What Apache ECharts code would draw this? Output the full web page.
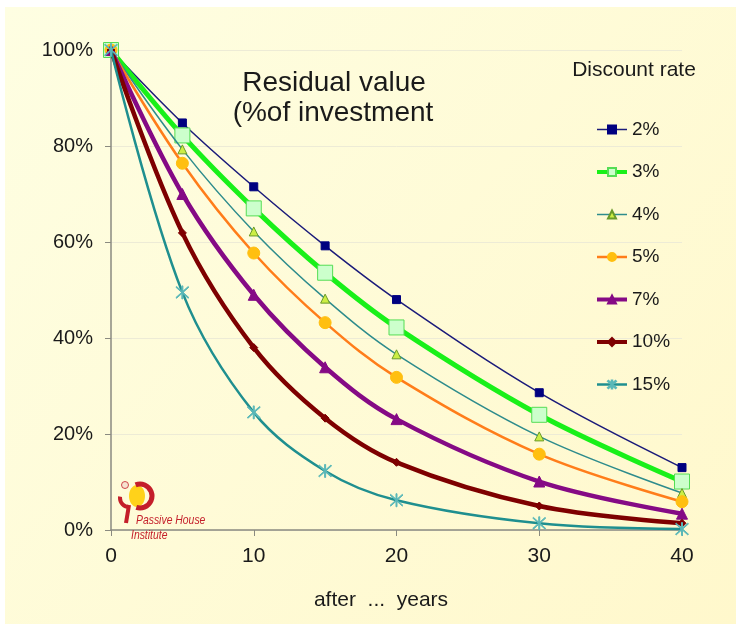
<!DOCTYPE html>
<html><head><meta charset="utf-8">
<script src="https://cdn.jsdelivr.net/npm/echarts@6/dist/echarts.min.js"></script>
<style>html,body{margin:0;padding:0;background:#fff}#c{width:742px;height:630px}</style>
</head><body><div id="c"></div>
<script>
const years = [0, 5, 10, 15, 20, 30, 40];
const rateNames = ['2%', '3%', '4%', '5%', '7%', '10%', '15%'];
const r2  = [100, 84.8, 71.5, 59.2, 48.0, 28.6, 13.0];
const r3  = [100, 82.2, 67.0, 53.6, 42.2, 24.0, 10.1];
const r4  = [100, 79.3, 62.2, 48.2, 36.6, 19.5, 7.7];
const r5  = [100, 76.4, 57.7, 43.2, 31.8, 15.8, 5.9];
const r7  = [100, 70.0, 49.0, 33.9, 23.1, 10.1, 3.4];
const r10 = [100, 61.9, 38.0, 23.3, 14.1, 5.0, 1.4];
const r15 = [100, 49.5, 24.5, 12.3, 6.2, 1.4, 0.2];
const xTicks = [0, 10, 20, 30, 40];
const yTicks = [0, 20, 40, 60, 80, 100];

const FONT = '"Liberation Sans", Arial, sans-serif';
const star = 'path://M9.3,0 L10.7,0 L10.7,20 L9.3,20 Z M1,2 L2,1 L19,18 L18,19 Z M18,1 L19,2 L2,19 L1,18 Z';

const styles = [
  {data: r2,  line: '#1b1b7a', w: 1.5, sym: 'rect', size: 8, fill: '#000080', border: '#000080'},
  {data: r3,  line: '#19f019', w: 5,   sym: 'rect', size: 15, fill: '#ccffcc', border: '#55dd55'},
  {data: r4,  line: '#2e8c8c', w: 1.5, sym: 'triangle', size: 9, fill: '#ccee44', border: '#6a9a2a'},
  {data: r5,  line: '#ff7d1a', w: 2.5, sym: 'circle', size: 12, fill: '#ffbf10', border: '#ffbf10'},
  {data: r7,  line: '#850a85', w: 4.5, sym: 'triangle', size: 11, fill: '#850a85', border: '#850a85'},
  {data: r10, line: '#7e0000', w: 4.5, sym: 'diamond', size: 8, fill: '#7e0000', border: '#7e0000'},
  {data: r15, line: '#1f8f8f', w: 2.5, sym: star, size: 13, fill: '#5ab8b8', border: '#5ab8b8'}
];

const series = styles.map((s, i) => ({
  name: rateNames[i],
  type: 'line',
  smooth: 0.35,
  data: years.map((x, j) => [x, s.data[j]]),
  symbol: s.sym,
  symbolSize: s.size,
  showAllSymbol: true,
  lineStyle: {color: s.line, width: s.w},
  itemStyle: {color: s.fill, borderColor: s.border, borderWidth: 1},
  z: 2 + i
}));

const RED = '#c41e2a';
const chart = echarts.init(document.getElementById('c'), null, {renderer: 'canvas'});
chart.setOption({
  animation: false,
  backgroundColor: '#ffffff',
  textStyle: {fontFamily: FONT},
  grid: {left: 111, right: 60, top: 50, bottom: 100, containLabel: false},
  xAxis: {
    type: 'value', min: 0, max: 40, interval: 10,
    axisLine: {show: true, lineStyle: {color: '#8a8a80', width: 1.5}},
    axisTick: {show: true, length: 6, lineStyle: {color: '#8a8a80'}},
    axisLabel: {fontSize: 21, color: '#1a1a1a', margin: 16, fontFamily: FONT},
    splitLine: {show: false}
  },
  yAxis: {
    type: 'value', min: 0, max: 100, interval: 20,
    axisLine: {show: true, lineStyle: {color: '#8a8a80', width: 1.5}},
    axisTick: {show: true, length: 6, lineStyle: {color: '#8a8a80'}},
    axisLabel: {fontSize: 20, color: '#1a1a1a', margin: 18, formatter: '{value}%', fontFamily: FONT},
    splitLine: {show: true, lineStyle: {color: '#edebd6', width: 1}}
  },
  legend: {
    orient: 'vertical', left: 595, top: 120, padding: 0,
    itemWidth: 30, itemHeight: 10, itemGap: 23.5,
    textStyle: {fontSize: 19, color: '#1a1a1a', fontFamily: FONT},
    data: rateNames.map((n, i) => ({name: n, lineStyle: {width: Math.min(styles[i].w, 4)}}))
  },
  graphic: [
    {type: 'rect', z: -10, silent: true, shape: {x: 5, y: 7, width: 731, height: 617},
     style: {fill: new echarts.graphic.LinearGradient(0, 0, 1, 1, [
       {offset: 0, color: '#fefee2'}, {offset: 1, color: '#fff8cc'}])}},
    {type: 'text', style: {text: 'Residual value', x: 334, y: 83, fill: '#1a1a1a', font: '28px ' + FONT, textAlign: 'center', textVerticalAlign: 'middle'}},
    {type: 'text', style: {text: '(%of investment', x: 333, y: 113, fill: '#1a1a1a', font: '28px ' + FONT, textAlign: 'center', textVerticalAlign: 'middle'}},
    {type: 'text', style: {text: 'Discount rate', x: 634, y: 70, fill: '#1a1a1a', font: '21px ' + FONT, textAlign: 'center', textVerticalAlign: 'middle'}},
    {type: 'text', style: {text: 'after  ...  years', x: 381, y: 600, fill: '#1a1a1a', font: '21px ' + FONT, textAlign: 'center', textVerticalAlign: 'middle'}},
    // logo
    {type: 'ellipse', shape: {cx: 137, cy: 496, rx: 8, ry: 11}, style: {fill: '#ffd21a'}, z: 1},
    {type: 'arc', shape: {cx: 140, cy: 496, r: 12, startAngle: -Math.PI * 0.62, endAngle: Math.PI * 0.6}, style: {stroke: RED, lineWidth: 5, fill: null}, z: 1},
    {type: 'arc', shape: {cx: 129, cy: 498, r: 9, startAngle: Math.PI * 0.5, endAngle: Math.PI * 1.05}, style: {stroke: RED, lineWidth: 4, fill: null}, z: 1},
    {type: 'line', shape: {x1: 129, y1: 505, x2: 126, y2: 523}, style: {stroke: RED, lineWidth: 4}, z: 1},
    {type: 'circle', shape: {cx: 125, cy: 485, r: 3.5}, style: {fill: '#f6e2cf', stroke: RED, lineWidth: 0.8}, z: 1},
    {type: 'text', x: 136, y: 520, scaleX: 0.8, style: {text: 'Passive House', x: 0, y: 0, fill: RED, font: 'italic 13px ' + FONT, textVerticalAlign: 'middle'}, z: 1},
    {type: 'text', x: 131, y: 535, scaleX: 0.8, style: {text: 'Institute', x: 0, y: 0, fill: RED, font: 'italic 13px ' + FONT, textVerticalAlign: 'middle'}, z: 1}
  ],
  series: series
});
</script></body></html>
